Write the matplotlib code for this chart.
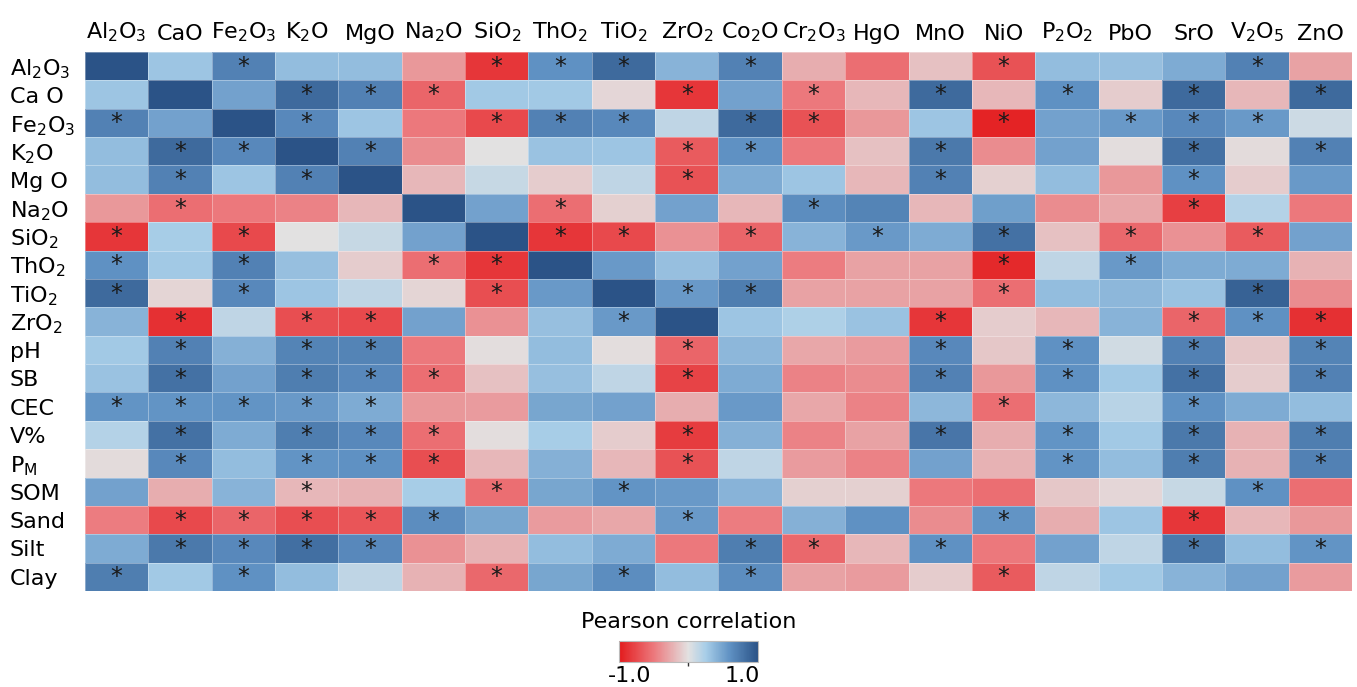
import numpy as np
import matplotlib
matplotlib.use('Agg')
import matplotlib.pyplot as plt
from matplotlib.colors import LinearSegmentedColormap

plt.rcParams['font.family'] = ['DejaVu Sans']
plt.rcParams['mathtext.default'] = 'regular'

# column / row labels
col_labels = ['Al$_2$O$_3$', 'CaO', 'Fe$_2$O$_3$', 'K$_2$O', 'MgO', 'Na$_2$O', 'SiO$_2$',
              'ThO$_2$', 'TiO$_2$', 'ZrO$_2$', 'Co$_2$O', 'Cr$_2$O$_3$', 'HgO', 'MnO',
              'NiO', 'P$_2$O$_2$', 'PbO', 'SrO', 'V$_2$O$_5$', 'ZnO']
row_labels = ['Al$_2$O$_3$', 'Ca O', 'Fe$_2$O$_3$', 'K$_2$O', 'Mg O', 'Na$_2$O', 'SiO$_2$',
              'ThO$_2$', 'TiO$_2$', 'ZrO$_2$', 'pH', 'SB', 'CEC', 'V%', 'P$_M$', 'SOM',
              'Sand', 'Silt', 'Clay']

# pearson correlation estimated from the figure
corr = np.array([
    [1.00, 0.30, 0.70, 0.35, 0.35, -0.35, -0.85, 0.60, 0.85, 0.40, 0.70, -0.25, -0.55, -0.15, -0.70, 0.35, 0.33, 0.45, 0.70, -0.30],
    [0.30, 1.00, 0.50, 0.85, 0.70, -0.60, 0.28, 0.28, -0.05, -0.85, 0.50, -0.50, -0.20, 0.85, -0.20, 0.60, -0.10, 0.85, -0.20, 0.85],
    [0.70, 0.50, 1.00, 0.65, 0.30, -0.50, -0.75, 0.70, 0.65, 0.15, 0.85, -0.70, -0.35, 0.30, -0.95, 0.50, 0.55, 0.65, 0.55, 0.10],
    [0.35, 0.85, 0.65, 1.00, 0.70, -0.40, 0.00, 0.32, 0.30, -0.65, 0.60, -0.50, -0.15, 0.75, -0.40, 0.50, -0.02, 0.80, -0.03, 0.70],
    [0.35, 0.70, 0.30, 0.70, 1.00, -0.20, 0.12, -0.10, 0.15, -0.70, 0.45, 0.30, -0.20, 0.70, -0.08, 0.35, -0.35, 0.60, -0.10, 0.55],
    [-0.35, -0.55, -0.50, -0.45, -0.20, 1.00, 0.50, -0.55, -0.08, 0.50, -0.20, 0.62, 0.68, -0.20, 0.52, -0.40, -0.28, -0.80, 0.20, -0.50],
    [-0.85, 0.25, -0.75, 0.00, 0.12, 0.50, 1.00, -0.85, -0.75, -0.38, -0.60, 0.40, 0.55, 0.45, 0.80, -0.15, -0.58, -0.38, -0.65, 0.50],
    [0.60, 0.28, 0.70, 0.33, -0.10, -0.55, -0.85, 1.00, 0.55, 0.33, 0.50, -0.48, -0.30, -0.30, -0.92, 0.15, 0.55, 0.45, 0.45, -0.22],
    [0.85, -0.06, 0.65, 0.30, 0.15, -0.06, -0.72, 0.55, 1.00, 0.55, 0.72, -0.30, -0.30, -0.30, -0.55, 0.35, 0.38, 0.32, 0.90, -0.40],
    [0.40, -0.88, 0.15, -0.72, -0.75, 0.50, -0.38, 0.33, 0.55, 1.00, 0.30, 0.22, 0.32, -0.85, -0.10, -0.20, 0.40, -0.60, 0.60, -0.88],
    [0.28, 0.70, 0.42, 0.68, 0.68, -0.50, -0.02, 0.35, -0.02, -0.60, 0.38, -0.28, -0.33, 0.65, -0.12, 0.60, 0.08, 0.70, -0.12, 0.68],
    [0.32, 0.80, 0.50, 0.72, 0.65, -0.55, -0.15, 0.33, 0.15, -0.78, 0.45, -0.45, -0.40, 0.70, -0.35, 0.60, 0.28, 0.80, -0.10, 0.70],
    [0.58, 0.58, 0.58, 0.55, 0.45, -0.35, -0.33, 0.48, 0.50, -0.25, 0.55, -0.28, -0.45, 0.38, -0.55, 0.38, 0.18, 0.60, 0.45, 0.35],
    [0.20, 0.80, 0.45, 0.72, 0.65, -0.55, -0.02, 0.25, -0.10, -0.82, 0.42, -0.45, -0.30, 0.78, -0.25, 0.58, 0.28, 0.75, -0.22, 0.72],
    [-0.03, 0.65, 0.35, 0.58, 0.60, -0.72, -0.20, 0.42, -0.20, -0.70, 0.15, -0.33, -0.45, 0.50, -0.22, 0.58, 0.35, 0.72, -0.22, 0.70],
    [0.50, -0.25, 0.40, -0.20, -0.22, 0.25, -0.55, 0.48, 0.58, 0.55, 0.40, -0.08, -0.08, -0.50, -0.55, -0.12, -0.05, 0.12, 0.60, -0.55],
    [-0.48, -0.75, -0.60, -0.72, -0.68, 0.62, 0.48, -0.33, -0.28, 0.55, -0.48, 0.42, 0.60, -0.40, 0.58, -0.25, 0.30, -0.85, -0.20, -0.35],
    [0.45, 0.75, 0.65, 0.82, 0.65, -0.38, -0.22, 0.35, 0.45, -0.50, 0.72, -0.58, -0.20, 0.60, -0.50, 0.50, 0.15, 0.75, 0.35, 0.58],
    [0.72, 0.28, 0.60, 0.35, 0.15, -0.22, -0.58, 0.48, 0.62, 0.35, 0.62, -0.30, -0.33, -0.10, -0.65, 0.15, 0.28, 0.40, 0.50, -0.33],
])

# significance marks ('*' = significant)
sig = [
    '..*...***.*...*...*.',
    '...***...*.*.*.*.*.*',
    '*..*..***.**..*.***.',
    '.**.*....**..*...*.*',
    '.*.*.....*...*...*..',
    '.*.....*...*.....*..',
    '*.*....**.*.*.*.*.*.',
    '*.*..**.......*.*...',
    '*.*...*..**...*...*.',
    '.*.**...*....*...***',
    '.*.**....*...*.*.*.*',
    '.*.***...*...*.*.*.*',
    '*****.........*..*..',
    '.*.***...*...*.*.*.*',
    '.*.***...*.....*.*.*',
    '...*..*.*.........*.',
    '.*****...*....*..*..',
    '.****.....**.*...*.*',
    '*.*...*.*.*...*.....',
]

cmap = LinearSegmentedColormap.from_list('pearson', [
    (0.000, (227/255, 26/255, 28/255)),
    (0.250, (236/255, 120/255, 124/255)),
    (0.500, (227/255, 225/255, 225/255)),
    (0.625, (168/255, 206/255, 232/255)),
    (0.800, (95/255, 145/255, 195/255)),
    (1.000, (43/255, 83/255, 135/255)),
])

fig = plt.figure(figsize=(13.57, 6.87), dpi=100)
ax = fig.add_axes([0.0626, 0.1397, 0.9337, 0.7846])

mesh = ax.pcolormesh(corr, cmap=cmap, vmin=-1, vmax=1,
                     edgecolors=(1, 1, 1, 0.35), linewidth=0.6)
ax.set_xlim(0, corr.shape[1])
ax.set_ylim(corr.shape[0], 0)

for i, row in enumerate(sig):
    for j, ch in enumerate(row):
        if ch == '*':
            ax.text(j + 0.5, i + 0.52, '*', ha='center', va='center',
                    fontsize=17, color='#1a1a1a')

ax.xaxis.tick_top()
ax.set_xticks(np.arange(len(col_labels)) + 0.5)
ax.set_xticklabels(col_labels, fontsize=16)
ax.set_yticks(np.arange(len(row_labels)) + 0.5)
ax.set_yticklabels(row_labels, fontsize=16, ha='left')
ax.tick_params(axis='x', length=0, pad=6)
ax.tick_params(axis='y', length=0, pad=54)
for s in ax.spines.values():
    s.set_visible(False)

# colorbar
cax = fig.add_axes([0.456, 0.0364, 0.1024, 0.0306])
cb = fig.colorbar(mesh, cax=cax, orientation='horizontal')
cb.set_ticks([0])
cb.set_ticklabels([''])
cax.tick_params(length=3, width=1, color='#333333')
cb.outline.set_edgecolor('#bbbbbb')
fig.text(0.5077, 0.095, 'Pearson correlation', ha='center', va='center', fontsize=16)
fig.text(0.4643, 0.0155, '-1.0', ha='center', va='center', fontsize=16)
fig.text(0.5468, 0.0155, '1.0', ha='center', va='center', fontsize=16)

plt.savefig('out.png', dpi=100)
plt.close()
